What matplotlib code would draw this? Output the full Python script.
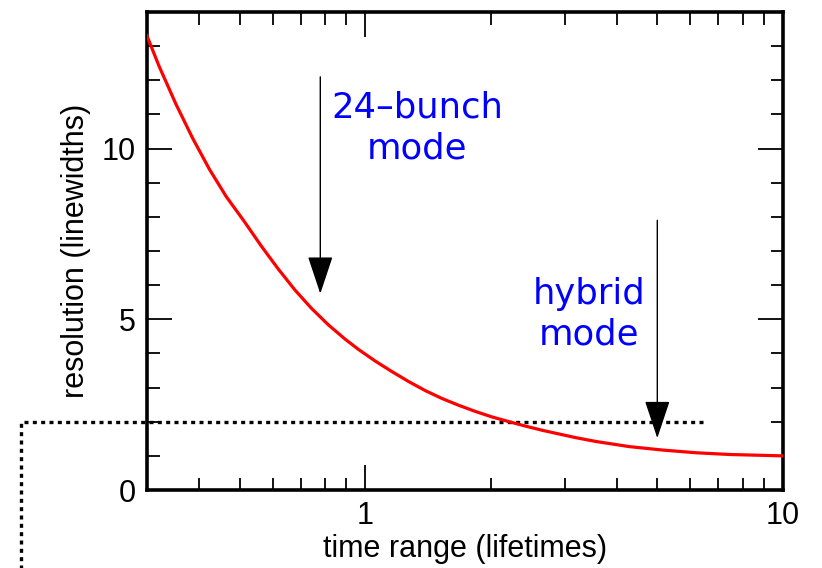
import matplotlib
matplotlib.use("Agg")
import matplotlib.pyplot as plt
from matplotlib.ticker import MultipleLocator, LogLocator, NullFormatter, FixedLocator, FixedFormatter

# resolution curve
time_range = [0.3, 0.321, 0.352, 0.386, 0.423, 0.464, 0.514, 0.563, 0.618,
              0.678, 0.743, 0.815, 0.894, 0.962, 1.055, 1.157, 1.268, 1.392,
              1.526, 1.674, 1.835, 2.01, 2.21, 2.42, 2.65, 2.91, 3.2, 3.57,
              4.29, 5.15, 6.21, 7.46, 10.0]
resolution = [13.3, 12.4, 11.3, 10.3, 9.4, 8.6, 7.85, 7.15, 6.48,
              5.86, 5.32, 4.84, 4.42, 4.12, 3.78, 3.47, 3.18, 2.91,
              2.68, 2.48, 2.30, 2.14, 2.0, 1.87, 1.75, 1.64, 1.53, 1.42,
              1.27, 1.17, 1.09, 1.04, 1.0]

# dotted guide line (goes outside the axes)
guide_x = [0.15, 0.15, 6.5]
guide_y = [-2.6, 2.0, 2.0]

# arrows: x position, start y, tip y
arrow_x = [0.78, 5.0]
arrow_y0 = [12.1, 7.9]
arrow_y1 = [5.75, 1.52]

labels = ["24\u2013bunch\nmode", "hybrid\nmode"]
label_x = [1.33, 3.44]
label_y = [10.6, 5.15]

plt.rcParams['font.family'] = ['Liberation Sans', 'DejaVu Sans']

fig = plt.figure(figsize=(8.22, 5.68), dpi=100)
ax = fig.add_axes([0.1788, 0.1373, 0.9526 - 0.1788, 0.9789 - 0.1373])

ax.plot(time_range, resolution, color='#ff0000', lw=2.3, zorder=3)

ax.plot(guide_x, guide_y, color='black', lw=2.4, linestyle=(0, (1.2, 1.3)),
        dash_capstyle='butt', clip_on=False, zorder=2)

for x, y0, y1 in zip(arrow_x, arrow_y0, arrow_y1):
    ax.annotate('', xy=(x, y1), xytext=(x, y0),
                arrowprops=dict(arrowstyle='-|>,head_length=2.4,head_width=0.8',
                                mutation_scale=10, lw=1.0, color='black',
                                shrinkA=0, shrinkB=0), zorder=4)

for txt, x, y in zip(labels, label_x, label_y):
    ax.text(x, y, txt, color='#0000ff', fontsize=25.5, ha='center', va='center',
            multialignment='center', linespacing=1.25, family='DejaVu Sans')

ax.set_xscale('log')
ax.set_xlim(0.3, 10)
ax.set_ylim(0, 14)

ax.xaxis.set_major_locator(FixedLocator([1, 10]))
ax.xaxis.set_major_formatter(FixedFormatter(['1', '10']))
ax.xaxis.set_minor_locator(LogLocator(base=10, subs=range(2, 10)))
ax.xaxis.set_minor_formatter(NullFormatter())
ax.yaxis.set_major_locator(MultipleLocator(5))
ax.yaxis.set_minor_locator(MultipleLocator(1))

ax.tick_params(which='both', direction='in', top=True, right=True,
               labelsize=22, pad=8, width=1.3)
ax.tick_params(which='major', length=18)
ax.tick_params(which='minor', length=9)
for s in ax.spines.values():
    s.set_linewidth(2.6)

ax.set_xlabel('time range (lifetimes)', fontsize=22, labelpad=2)
ax.set_ylabel('resolution (linewidths)', fontsize=22, labelpad=8)

fig.savefig('out.png', dpi=100)
